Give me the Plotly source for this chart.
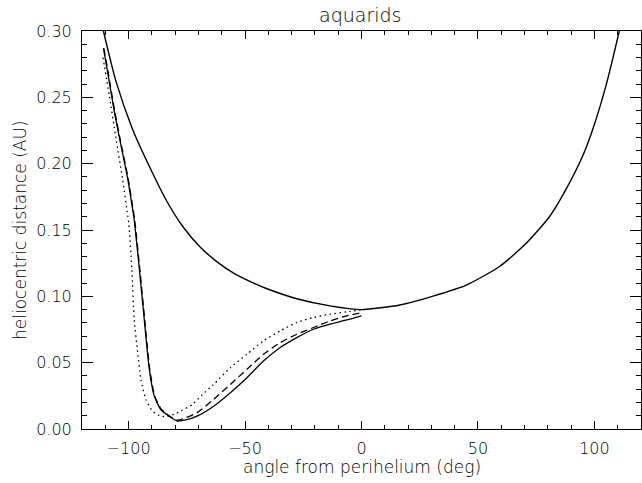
import plotly.graph_objects as go

# upper curve (orbit)
orbit_x = [-110.8, -105.4, -98.3, -91.1, -84.0, -76.9, -69.2, -62.0, -54.9, -47.0, -40.6, -27.8, -13.5, 0.0,
           16.5, 30.7, 45.0, 59.3, 70.7, 80.7, 87.9, 95.0, 99.3, 105.0, 110.7]
orbit_y = [0.300, 0.262, 0.226, 0.198, 0.173, 0.153, 0.137, 0.126, 0.1175, 0.1105, 0.1057, 0.0982, 0.0928, 0.090,
           0.0935, 0.1002, 0.1085, 0.1225, 0.140, 0.160, 0.181, 0.206, 0.226, 0.259, 0.300]

# solid lower curve
solid_x = [-110.8, -109.0, -106.1, -103.3, -100.4, -98.3, -97.6, -95.4, -93.3, -91.1, -89.0, -86.2,
           -82.6, -79.0, -75.5, -70.6, -63.5, -56.3, -49.2, -42.1, -34.9, -27.8, -20.6, -13.5, -6.3, 0.0]
solid_y = [0.287, 0.269, 0.239, 0.214, 0.189, 0.166, 0.158, 0.121, 0.083, 0.045, 0.025, 0.0147,
           0.0097, 0.0060, 0.0068, 0.0097, 0.0172, 0.0274, 0.0387, 0.0512, 0.0614, 0.0689, 0.0752, 0.079, 0.0822, 0.0853]

# dashed lower curve
dashed_x = [-110.6, -108.8, -105.9, -103.1, -100.2, -98.1, -97.4, -95.2, -93.1, -90.9, -88.8, -86.0,
            -82.6, -79.0, -75.5, -70.6, -63.5, -56.3, -49.2, -42.1, -34.9, -27.8, -20.6, -13.5, -6.3, 0.0]
dashed_y = [0.287, 0.269, 0.239, 0.214, 0.189, 0.166, 0.158, 0.121, 0.083, 0.045, 0.025, 0.0150,
            0.0100, 0.0066, 0.0085, 0.0123, 0.0223, 0.0336, 0.045, 0.0563, 0.0651, 0.0714, 0.0765, 0.0815, 0.0853, 0.0878]

# dotted lower curve
dotted_x = [-111.0, -108.3, -105.4, -102.6, -100.4, -99.9, -98.6, -97.6, -96.1, -94.7, -92.6, -89.7,
            -86.2, -82.6, -78.3, -72.6, -68.3, -63.5, -56.3, -49.2, -42.1, -34.9, -27.8, -20.6, -13.5, -6.3, 0.0]
dotted_y = [0.280, 0.2516, 0.2188, 0.1886, 0.161, 0.155, 0.1206, 0.083, 0.0576, 0.0374, 0.0223, 0.0135,
            0.0097, 0.0097, 0.0130, 0.0185, 0.026, 0.0336, 0.0462, 0.0563, 0.0664, 0.0739, 0.0803, 0.084, 0.0865, 0.0883, 0.0898]

FONT = "DejaVu Sans"
W, H = 642, 483
L, R, T, B = 82, 1, 31, 54

fig = go.Figure()
line_common = dict(color="black", shape="spline", smoothing=0.6)
fig.add_trace(go.Scatter(x=orbit_x, y=orbit_y, mode="lines", line=dict(width=1.4, **line_common)))
fig.add_trace(go.Scatter(x=solid_x, y=solid_y, mode="lines", line=dict(width=1.3, **line_common)))
fig.add_trace(go.Scatter(x=dashed_x, y=dashed_y, mode="lines", line=dict(width=1.3, dash="7px,4px", **line_common)))
fig.add_trace(go.Scatter(x=dotted_x, y=dotted_y, mode="lines", line=dict(width=1.3, dash="1.5px,3.5px", **line_common)))

pw = W - L - R
ph = H - T - B
TXT = "black"

fig.update_layout(
    width=W, height=H,
    margin=dict(l=L, r=R, t=T, b=B, pad=0),
    paper_bgcolor="white", plot_bgcolor="white",
    showlegend=False,
    font=dict(family=FONT, size=16, color=TXT),
    xaxis=dict(range=[-120, 120], dtick=50, tick0=0, ticks="inside", ticklen=8, tickwidth=1,
               tickcolor="black", showline=True, linecolor="black", linewidth=1, mirror="ticks",
               showgrid=False, zeroline=False, ticklabelstandoff=5,
               minor=dict(dtick=10, tick0=0, ticks="inside", ticklen=4, tickcolor="black", showgrid=False),
               tickfont=dict(family=FONT, size=16, color=TXT, weight=300)),
    yaxis=dict(range=[0, 0.30], dtick=0.05, tick0=0, tickformat=".2f", ticks="inside", ticklen=11, tickwidth=1,
               tickcolor="black", showline=True, linecolor="black", linewidth=1, mirror="ticks",
               showgrid=False, zeroline=False, ticklabelstandoff=6,
               minor=dict(dtick=0.01, tick0=0, ticks="inside", ticklen=5, tickcolor="black", showgrid=False),
               tickfont=dict(family=FONT, size=16, color=TXT, weight=300)),
    annotations=[
        dict(text="aquarids", xref="paper", yref="paper", x=(360 - L) / pw, y=(H - B - 15) / ph,
             xanchor="center", yanchor="middle", showarrow=False,
             font=dict(family=FONT, size=19, color=TXT, weight=300)),
        dict(text="angle from perihelium (deg)", xref="paper", yref="paper", x=0.5, y=(H - B - 467) / ph,
             xanchor="center", yanchor="middle", showarrow=False,
             font=dict(family=FONT, size=17, color=TXT, weight=300)),
        dict(text="heliocentric distance (AU)", xref="paper", yref="paper", x=(20 - L) / pw, y=0.5,
             xanchor="center", yanchor="middle", textangle=-90, showarrow=False,
             font=dict(family=FONT, size=17, color=TXT, weight=300)),
    ],
)

fig.write_html("out.html")
